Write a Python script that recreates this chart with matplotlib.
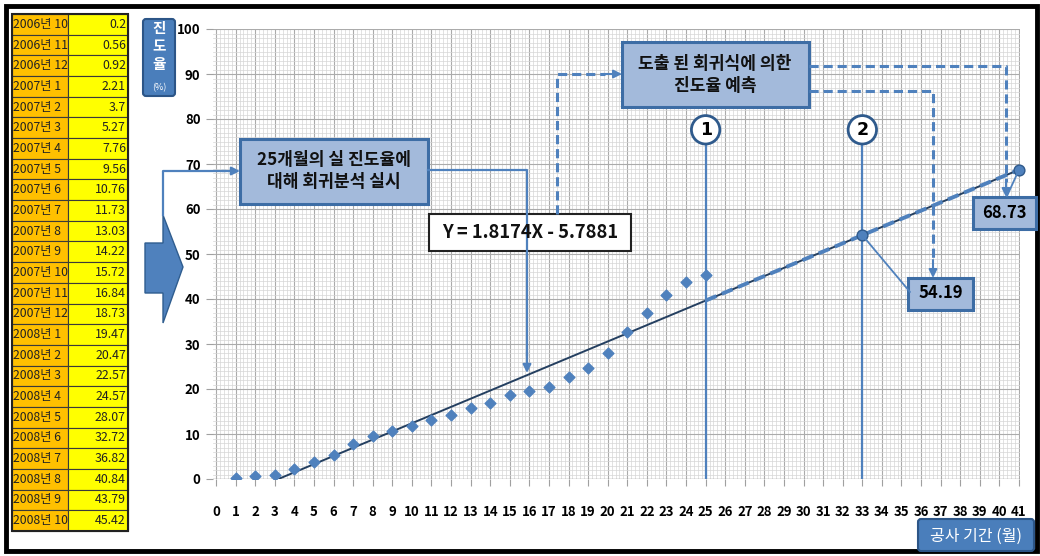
import numpy as np
import matplotlib
matplotlib.use("Agg")
import matplotlib.pyplot as plt
from matplotlib.patches import Rectangle, FancyBboxPatch, Polygon
from matplotlib.ticker import MultipleLocator

plt.rcParams['font.family'] = ['Noto Sans CJK KR', 'DejaVu Sans']

# ---------------- data ----------------
months = ["2006년 10", "2006년 11", "2006년 12", "2007년 1", "2007년 2", "2007년 3",
          "2007년 4", "2007년 5", "2007년 6", "2007년 7", "2007년 8", "2007년 9",
          "2007년 10", "2007년 11", "2007년 12", "2008년 1", "2008년 2", "2008년 3",
          "2008년 4", "2008년 5", "2008년 6", "2008년 7", "2008년 8", "2008년 9",
          "2008년 10"]
progress = [0.2, 0.56, 0.92, 2.21, 3.7, 5.27, 7.76, 9.56, 10.76, 11.73, 13.03, 14.22,
            15.72, 16.84, 18.73, 19.47, 20.47, 22.57, 24.57, 28.07, 32.72, 36.82,
            40.84, 43.79, 45.42]
period = list(range(1, len(progress) + 1))
slope = 1.8174
intercept = -5.7881
pred_x = [33, 41]
pred_y = [54.19, 68.73]
marker_x = [25, 33]
marker_labels = ["1", "2"]
x_ticks = list(range(0, 42))
y_ticks = list(range(0, 101, 10))

BLUE = '#4F81BD'
BOXFILL = '#A3BADB'
BOXEDGE = '#3D6DA5'

W, H = 1040, 556
fig = plt.figure(figsize=(W / 100, H / 100), dpi=100)
fig.patch.set_facecolor('white')

def fx(px):
    return px / W

def fy(py):
    return 1 - py / H

# ---------------- main axes ----------------
L, R, T, B = 213, 1020, 29, 479
ax = fig.add_axes([fx(L), fy(B), fx(R - L), (B - T) / H])
x0px, x41px = 216, 1019
sc = (x41px - x0px) / 41
ax.set_xlim(-(x0px - L) / sc, 41 + (R - x41px) / sc)
ax.set_ylim(0, 100)
ax.set_facecolor('white')
for s in ax.spines.values():
    s.set_visible(False)
ax.xaxis.set_minor_locator(MultipleLocator(0.2))
ax.yaxis.set_minor_locator(MultipleLocator(1))
ax.set_xticks(x_ticks)
ax.set_yticks(y_ticks)
ax.grid(which='major', color='#ABABAB', lw=0.8)
ax.grid(which='minor', color='#D6D6D6', lw=0.5)
ax.set_axisbelow(True)
ax.tick_params(axis='x', which='major', length=5, color='#A0A0A0', pad=14,
               labelsize=9.5)
ax.tick_params(axis='y', which='major', length=5, color='#A0A0A0', pad=4,
               labelsize=9.5)
ax.tick_params(which='minor', length=0)
for lab in ax.get_xticklabels() + ax.get_yticklabels():
    lab.set_fontweight('bold')
ax.axhline(0, color='#A0A0A0', lw=1)

# data points
ax.scatter(period, progress, marker='D', s=30, color=BLUE, zorder=4)

# trend line
xs = np.array([-intercept / slope, 41])
ax.plot(xs, slope * xs + intercept, color='#243F60', lw=1.4, zorder=3)
xd = np.array([25, 41])
ax.plot(xd, slope * xd + intercept, color=BLUE, lw=2.8, ls=(0, (3, 1.5)), zorder=3)

# vertical markers
circle_y = 77.6
for mx, ml in zip(marker_x, marker_labels):
    ax.plot([mx, mx], [0, circle_y - 3.3], color=BLUE, lw=1.6, zorder=3)
    ax.text(mx, circle_y, ml, ha='center', va='center', fontsize=12.5, fontweight='bold',
            family='DejaVu Sans', zorder=6,
            bbox=dict(boxstyle='circle,pad=0.3', fc='white', ec='#2F5A8C', lw=2))

# predicted points
ax.scatter(pred_x, pred_y, marker='o', s=60, color=BLUE, edgecolor='#2F5A8C',
           zorder=5, clip_on=False)

# ---------------- overlay in pixel coords ----------------
ov = fig.add_axes([0, 0, 1, 1], zorder=5)
ov.set_xlim(0, W)
ov.set_ylim(H, 0)
ov.axis('off')
ov.patch.set_alpha(0)

# outer border
ov.add_patch(Rectangle((6, 6), 1031, 545, fill=False, ec='black', lw=3.5))

# table
tx0, tx1, tx2 = 12, 68, 128
ty0, ty1 = 14, 531
rh = (ty1 - ty0) / len(months)
for i, (m, v) in enumerate(zip(months, progress)):
    y = ty0 + i * rh
    ov.add_patch(Rectangle((tx0, y), tx1 - tx0, rh, fc='#FFC000', ec='#3A3A3A', lw=0.8))
    ov.add_patch(Rectangle((tx1, y), tx2 - tx1, rh, fc='#FFFF00', ec='#3A3A3A', lw=0.8))
    ov.text(tx0 + 1, y + rh / 2, m, ha='left', va='center', fontsize=8.8, color='#222222')
    ov.text(tx2 - 2, y + rh / 2, f"{v:g}", ha='right', va='center', fontsize=8.9,
            color='#222222')
ov.add_patch(Rectangle((tx0, ty0), tx2 - tx0, ty1 - ty0, fill=False, ec='#222222', lw=1.5))

# y axis title box
ov.add_patch(FancyBboxPatch((143, 19), 32, 77, boxstyle='round,pad=0,rounding_size=3',
                            fc='#4A7EBB', ec='#2C5587', lw=1.5))
ov.text(159, 46, "진\n도\n율", ha='center', va='center', fontsize=10.5, color='white',
        fontweight='bold', linespacing=1.15)
ov.text(159, 88, "(%)", ha='center', va='center', fontsize=6.5, color='white')

# x axis title box
ov.add_patch(FancyBboxPatch((918, 519), 116, 32, boxstyle='round,pad=0,rounding_size=3',
                            fc='#4A7EBB', ec='#2C5587', lw=1.5))
ov.text(976, 536, "공사 기간 (월)", ha='center', va='center', fontsize=11.5, color='white')

# big block arrow
ov.add_patch(Polygon([(145, 243), (163, 243), (163, 215), (183, 267), (163, 323),
                      (163, 293), (145, 293)], closed=True, fc=BLUE, ec='#2F5D8F', lw=1))

ap = dict(arrowstyle='-|>', color=BLUE, lw=1.6, mutation_scale=12, shrinkA=0, shrinkB=0)
# line from block arrow to box 1
ov.plot([163, 163, 225], [215, 171, 171], color=BLUE, lw=1.6)
ov.annotate('', xy=(240, 171), xytext=(222, 171), arrowprops=ap)

# box 1
ov.add_patch(Rectangle((240, 139), 188, 65, fc=BOXFILL, ec=BOXEDGE, lw=2.2))
ov.text(334, 171, "25개월의 실 진도율에\n대해 회귀분석 실시", ha='center', va='center',
        fontsize=12.3, fontweight='bold', linespacing=1.35, color='#111111')
ov.plot([428, 527, 527], [170, 170, 355], color=BLUE, lw=1.6)
ov.annotate('', xy=(527, 373), xytext=(527, 352), arrowprops=ap)

# equation box
ov.add_patch(Rectangle((429, 214), 202, 37, fc='white', ec='#222222', lw=1.5))
ov.text(530, 232, "Y = 1.8174X - 5.7881", ha='center', va='center', fontsize=13.2,
        fontweight='bold', color='#111111')

# dashed connector from equation box to box 2
dk = dict(color=BLUE, lw=2.2, ls=(0, (3, 1.6)))
apd = dict(arrowstyle='-|>', color=BLUE, lw=1.5, mutation_scale=12, shrinkA=0, shrinkB=0)
ov.plot([557, 557, 605], [214, 74, 74], **dk)
ov.annotate('', xy=(622, 74), xytext=(603, 74), arrowprops=apd)

# box 2
ov.add_patch(Rectangle((622, 42), 187, 65, fc=BOXFILL, ec=BOXEDGE, lw=2.2))
ov.text(715, 75, "도출 된 회귀식에 의한\n진도율 예측", ha='center', va='center',
        fontsize=12.3, fontweight='bold', linespacing=1.35, color='#111111')

# dashed connectors to value boxes
ov.plot([809, 1006, 1006], [66, 66, 182], **dk)
ov.annotate('', xy=(1006, 197), xytext=(1006, 180), arrowprops=apd)
ov.plot([809, 933, 933], [91, 91, 262], **dk)
ov.annotate('', xy=(933, 278), xytext=(933, 260), arrowprops=apd)

# value boxes
ov.add_patch(Rectangle((973, 197), 63, 32, fc=BOXFILL, ec=BOXEDGE, lw=2.2))
ov.text(1004.5, 212.5, f"{pred_y[1]:.2f}", ha='center', va='center', fontsize=12,
        fontweight='bold')
ov.add_patch(Rectangle((908, 278), 65, 32, fc=BOXFILL, ec=BOXEDGE, lw=2.2))
ov.text(940.5, 293.5, f"{pred_y[0]:.2f}", ha='center', va='center', fontsize=12,
        fontweight='bold')

# leader lines from value boxes to predicted points
ov.annotate('', xy=(pred_x[1], pred_y[1]), xycoords=ax.transData,
            xytext=(1007, 196), textcoords=ov.transData,
            arrowprops=dict(arrowstyle='-', color=BLUE, lw=1.3, shrinkA=0, shrinkB=0),
            annotation_clip=False)
ov.annotate('', xy=(pred_x[0], pred_y[0]), xycoords=ax.transData,
            xytext=(910, 292), textcoords=ov.transData,
            arrowprops=dict(arrowstyle='-', color=BLUE, lw=1.3, shrinkA=0, shrinkB=0),
            annotation_clip=False)

fig.savefig('out.png', dpi=100)
